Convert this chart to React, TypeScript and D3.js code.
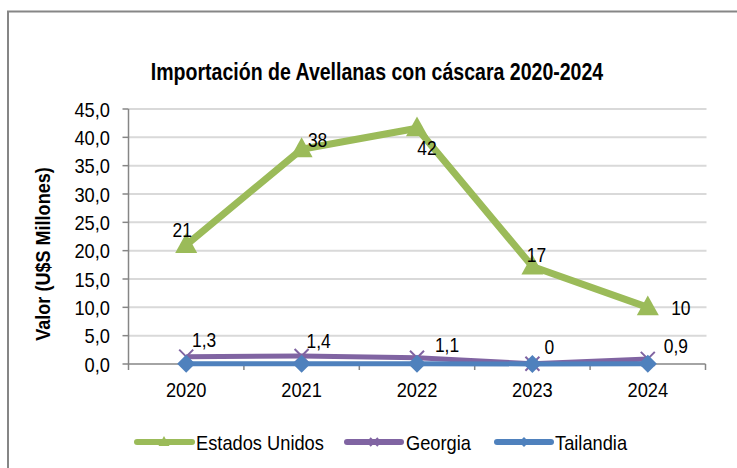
import React from "react";
import * as d3 from "d3";

const years = ["2020", "2021", "2022", "2023", "2024"];
const estadosUnidos = [21, 37.9, 41.6, 17.2, 10];
const georgia = [1.3, 1.4, 1.1, 0.04, 0.9];
const tailandia = [0.05, 0.05, 0.03, 0.02, 0.03];
const estadosLabels = ["21", "38", "42", "17", "10"];
const georgiaLabels = ["1,3", "1,4", "1,1", "0", "0,9"];
const yTicks = [0, 5, 10, 15, 20, 25, 30, 35, 40, 45];
const seriesNames = ["Estados Unidos", "Georgia", "Tailandia"];

const W = 737;
const H = 468;
const left = 128.5;
const right = 705.5;
const top = 109;
const bottom = 364;
const FONT = "'Liberation Sans', Arial, sans-serif";
const SX = 0.87;

const GREEN = "#9BBB59";
const PURPLE = "#8064A2";
const BLUE = "#4F81BD";

// label offsets relative to point (styling only)
const usOffsets = [[-4, -8], [16, -2], [10, 27], [4, -5], [33, 8]];
const geoOffsets = [[18, -10], [17, -8], [30, -6], [17, -10], [28, -6]];

function T({ x, y, size, anchor = "start", weight = "normal", rotate = 0, sx = SX, children }: any) {
  return (
    <text
      transform={`translate(${x},${y}) rotate(${rotate}) scale(${sx},1)`}
      fontSize={size}
      fontFamily={FONT}
      fontWeight={weight}
      textAnchor={anchor}
      fill="#000"
    >
      {children}
    </text>
  );
}

function triangle(cx: number, cy: number, s: number) {
  const h = s * 0.9;
  return `M${cx},${cy - h * 0.6}L${cx + s / 2},${cy + h * 0.4}L${cx - s / 2},${cy + h * 0.4}Z`;
}
function diamond(cx: number, cy: number, s: number) {
  return `M${cx},${cy - s / 2}L${cx + s / 2},${cy}L${cx},${cy + s / 2}L${cx - s / 2},${cy}Z`;
}
function cross(cx: number, cy: number, s: number) {
  const r = s / 2;
  return `M${cx - r},${cy - r}L${cx + r},${cy + r}M${cx - r},${cy + r}L${cx + r},${cy - r}`;
}

export default function App() {
  const x = d3.scaleBand<string>().domain(years).range([left, right]);
  const y = d3.scaleLinear().domain([0, 45]).range([bottom, top]);
  const cx = (yr: string) => (x(yr) as number) + x.bandwidth() / 2;
  const line = d3
    .line<number>()
    .x((_, i) => cx(years[i]))
    .y((v) => y(v));
  const fmt = d3.format(".1f");

  const boundaries = years.map((yr) => x(yr) as number).concat([right]);

  return (
    <svg
      width={W}
      height={H}
      style={{ position: "absolute", left: 0, top: 0, background: "#fff" }}
    >
      <rect x={0} y={0} width={W} height={H} fill="#fff" />
      <rect x={8} y={11.5} width={W + 20} height={H + 20} fill="none" stroke="#868686" strokeWidth={2} />

      <T x={377} y={80} size={23} weight="bold" sx={0.85} anchor="middle">
        Importación de Avellanas con cáscara 2020-2024
      </T>

      {/* gridlines */}
      {yTicks.filter((t) => t > 0).map((t) => (
        <line key={t} x1={left} x2={right + 1} y1={y(t)} y2={y(t)} stroke="#d9d9d9" strokeWidth={2} />
      ))}

      {/* y axis */}
      <line x1={left} x2={left} y1={top} y2={bottom} stroke="#868686" strokeWidth={1.5} />
      {yTicks.map((t) => (
        <g key={t}>
          <line x1={left - 6} x2={left} y1={y(t)} y2={y(t)} stroke="#868686" strokeWidth={1.5} />
          <T x={110} y={y(t) + 7.5} size={21} anchor="end">
            {fmt(t).replace(".", ",")}
          </T>
        </g>
      ))}

      {/* x axis */}
      <line x1={left} x2={right} y1={bottom} y2={bottom} stroke="#868686" strokeWidth={1.5} />
      {boundaries.map((b, i) => (
        <line key={i} x1={b} x2={b} y1={bottom} y2={bottom + 6} stroke="#868686" strokeWidth={1.5} />
      ))}
      {years.map((yr) => (
        <T key={yr} x={cx(yr)} y={397} size={21} anchor="middle">
          {yr}
        </T>
      ))}

      <T x={50} y={254} size={21} weight="bold" rotate={-90} sx={0.86} anchor="middle">
        Valor (U$S Millones)
      </T>

      {/* Estados Unidos */}
      <path d={line(estadosUnidos) || ""} fill="none" stroke={GREEN} strokeWidth={7} strokeLinejoin="round" />
      {estadosUnidos.map((v, i) => (
        <path key={i} d={triangle(cx(years[i]), y(v), 22)} fill={GREEN} />
      ))}

      {/* Georgia */}
      <path d={line(georgia) || ""} fill="none" stroke={PURPLE} strokeWidth={5} strokeLinejoin="round" />
      {georgia.map((v, i) => (
        <path key={i} d={cross(cx(years[i]), y(v), 14)} fill="none" stroke={PURPLE} strokeWidth={2} />
      ))}

      {/* Tailandia */}
      <path d={line(tailandia) || ""} fill="none" stroke={BLUE} strokeWidth={5} strokeLinejoin="round" />
      {tailandia.map((v, i) => (
        <path key={i} d={diamond(cx(years[i]), y(v), 18)} fill={BLUE} />
      ))}

      {/* labels */}
      {estadosUnidos.map((v, i) => (
        <T key={i} x={cx(years[i]) + usOffsets[i][0]} y={y(v) + usOffsets[i][1]} size={20} anchor="middle">
          {estadosLabels[i]}
        </T>
      ))}
      {georgia.map((v, i) => (
        <T key={i} x={cx(years[i]) + geoOffsets[i][0]} y={y(v) + geoOffsets[i][1]} size={20} anchor="middle">
          {georgiaLabels[i]}
        </T>
      ))}

      {/* legend */}
      <g>
        <line x1={137} x2={192} y1={442} y2={442} stroke={GREEN} strokeWidth={6} strokeLinecap="round" />
        <path d={triangle(164, 442, 11)} fill={GREEN} />
        <T x={196} y={449.5} size={21}>{seriesNames[0]}</T>

        <line x1={347} x2={401} y1={442} y2={442} stroke={PURPLE} strokeWidth={6} strokeLinecap="round" />
        <path d={cross(374, 442, 8)} fill="none" stroke={PURPLE} strokeWidth={2} />
        <T x={406} y={449.5} size={21}>{seriesNames[1]}</T>

        <line x1={497} x2={551} y1={442} y2={442} stroke={BLUE} strokeWidth={6} strokeLinecap="round" />
        <path d={diamond(524, 442, 10)} fill={BLUE} />
        <T x={555} y={449.5} size={21}>{seriesNames[2]}</T>
      </g>
    </svg>
  );
}
